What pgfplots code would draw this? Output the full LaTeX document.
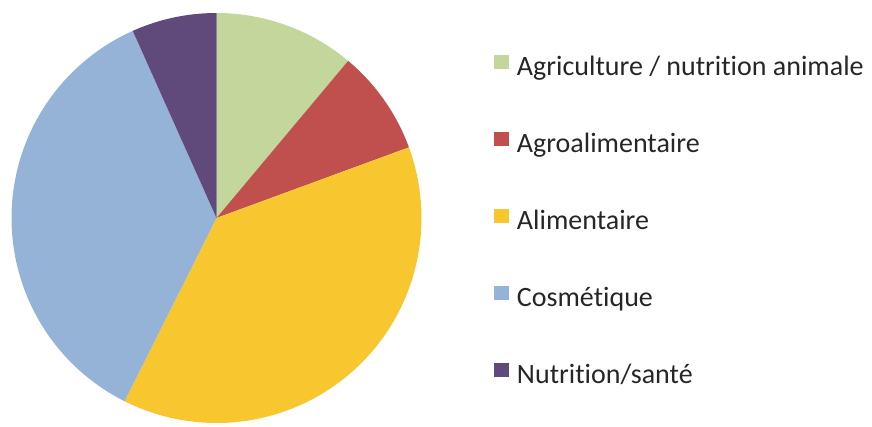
\documentclass[border=0pt]{standalone}
\usepackage{pgfplots}
\pgfplotsset{compat=1.18}
\usepackage{fontspec}
\setmainfont{Carlito}[Ligatures=NoCommon]
\definecolor{cagri}{HTML}{C3D69B}
\definecolor{cagro}{HTML}{C0504D}
\definecolor{calim}{HTML}{F8C730}
\definecolor{ccosm}{HTML}{95B3D7}
\definecolor{cnutr}{HTML}{604A7B}
% shares of the pie, in percent
\def\pA{11.1}\def\pB{8.3}\def\pC{38.0}\def\pD{35.9}\def\pE{6.7}
\pgfmathsetmacro{\aA}{90}
\pgfmathsetmacro{\aB}{\aA-3.6*\pA}
\pgfmathsetmacro{\aC}{\aB-3.6*\pB}
\pgfmathsetmacro{\aD}{\aC-3.6*\pC}
\pgfmathsetmacro{\aE}{\aD-3.6*\pD}
\pgfmathsetmacro{\aF}{\aE-3.6*\pE}
\begin{document}
\begin{tikzpicture}
\path[use as bounding box] (0,0) rectangle (872pt,426pt);
\begin{axis}[
  at={(11.5pt,3pt)}, anchor=south west,
  width=410pt, height=410pt, scale only axis,
  xmin=-1, xmax=1, ymin=-1, ymax=1,
  hide axis, clip=false,
  samples=120, variable=\t,
  legend cell align=left,
  legend image code/.code={\fill[#1] (0pt,0pt) rectangle (15pt,14pt);},
  legend style={at={(1.1768,0.8976)}, anchor=north west,
    draw=none, fill=none, inner sep=0pt, outer sep=0pt,
    row sep=50pt, column sep=8pt,
    font=\fontsize{28}{33}\selectfont, text=black!85,
    nodes={inner sep=0pt, text height=20pt, text depth=6pt}},
]
\addplot[draw=none, fill=cagri, domain=\aB:\aA] ({cos(\t)},{sin(\t)}) -- (axis cs:0,0) -- cycle;
\addlegendentry{Agriculture / nutrition animale}
\addplot[draw=none, fill=cagro, domain=\aC:\aB] ({cos(\t)},{sin(\t)}) -- (axis cs:0,0) -- cycle;
\addlegendentry{Agroalimentaire}
\addplot[draw=none, fill=calim, domain=\aD:\aC] ({cos(\t)},{sin(\t)}) -- (axis cs:0,0) -- cycle;
\addlegendentry{Alimentaire}
\addplot[draw=none, fill=ccosm, domain=\aE:\aD] ({cos(\t)},{sin(\t)}) -- (axis cs:0,0) -- cycle;
\addlegendentry{Cosmétique}
\addplot[draw=none, fill=cnutr, domain=\aF:\aE] ({cos(\t)},{sin(\t)}) -- (axis cs:0,0) -- cycle;
\addlegendentry{Nutrition/santé}
\end{axis}
\end{tikzpicture}
\end{document}
